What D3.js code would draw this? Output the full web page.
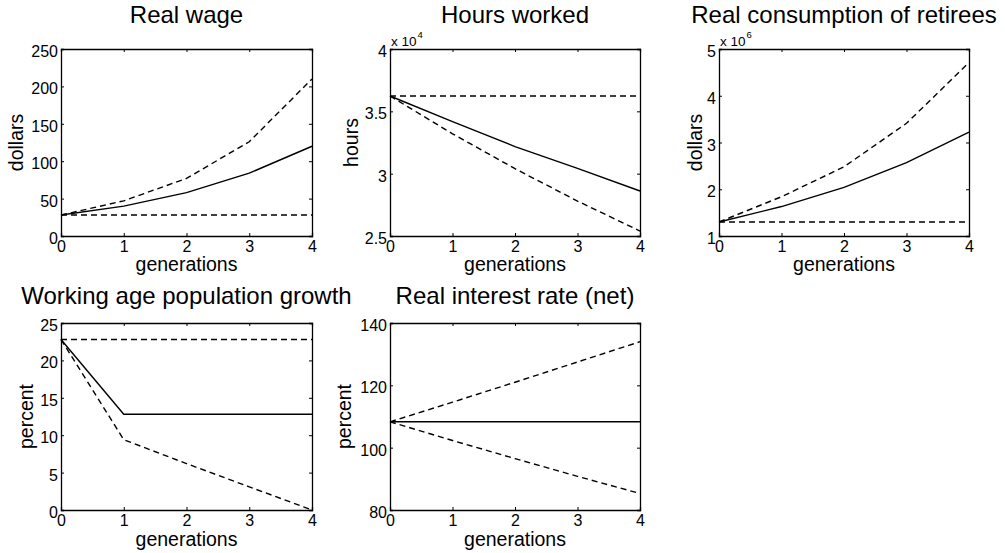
<!DOCTYPE html>
<html><head><meta charset="utf-8">
<script src="https://cdn.jsdelivr.net/npm/d3@7"></script>
<style>
html,body{margin:0;padding:0;background:#fff;}
svg{display:block;font-family:"Liberation Sans",Arial,Helvetica,sans-serif;}
</style></head>
<body>
<svg id="chart" width="1005" height="553"></svg>
<script>
// ---- data ----
const gens = [0, 1, 2, 3, 4];
const xTicks = [0, 1, 2, 3, 4];

const wageBase = [28, 40, 58, 84, 120];
const wageHigh = [28, 47, 77, 126, 210];
const wageLow  = [28, 28, 28, 28, 28];
const wageTicks = [0, 50, 100, 150, 200, 250];

const hoursBase = [36230, 34170, 32170, 30430, 28610];
const hoursHigh = [36230, 36230, 36230, 36230, 36230];
const hoursLow  = [36230, 33200, 30400, 27800, 25400];
const hoursTicks = [25000, 30000, 35000, 40000];

const consBase = [1.30e6, 1.63e6, 2.04e6, 2.57e6, 3.22e6];
const consHigh = [1.30e6, 1.84e6, 2.48e6, 3.41e6, 4.71e6];
const consLow  = [1.30e6, 1.30e6, 1.30e6, 1.30e6, 1.30e6];
const consTicks = [1e6, 2e6, 3e6, 4e6, 5e6];

const popBase = [22.8, 12.8, 12.8, 12.8, 12.8];
const popHigh = [22.8, 22.8, 22.8, 22.8, 22.8];
const popLow  = [22.8, 9.4, 6.2, 3.1, 0];
const popTicks = [0, 5, 10, 15, 20, 25];

const rateBase = [108.3, 108.3, 108.3, 108.3, 108.3];
const rateHigh = [108.3, 114.6, 121.0, 127.5, 134.0];
const rateLow  = [108.3, 102.3, 96.5, 90.8, 85.3];
const rateTicks = [80, 100, 120, 140];

const titles = ["Real wage", "Hours worked", "Real consumption of retirees",
                "Working age population growth", "Real interest rate (net)"];
const yLabels = ["dollars", "hours", "dollars", "percent", "percent"];
const xLabel = "generations";

// ---- layout ----
const panels = [
  {title: titles[0], ylab: yLabels[0], base: wageBase, high: wageHigh, low: wageLow, ticks: wageTicks, dom: [0, 250], div: 1, exp: null,
   x0: 61, x1: 312, y0: 49, y1: 236, titleY: 23, ylabOff: 38, xlabOff: 35},
  {title: titles[1], ylab: yLabels[1], base: hoursBase, high: hoursHigh, low: hoursLow, ticks: hoursTicks, dom: [25000, 40000], div: 1e4, exp: "4",
   x0: 390, x1: 640, y0: 49, y1: 236, titleY: 23, ylabOff: 32, xlabOff: 35},
  {title: titles[2], ylab: yLabels[2], base: consBase, high: consHigh, low: consLow, ticks: consTicks, dom: [1e6, 5e6], div: 1e6, exp: "6",
   x0: 719, x1: 969, y0: 49, y1: 236, titleY: 23, ylabOff: 17, xlabOff: 35},
  {title: titles[3], ylab: yLabels[3], base: popBase, high: popHigh, low: popLow, ticks: popTicks, dom: [0, 25], div: 1, exp: null,
   x0: 61, x1: 312, y0: 323, y1: 510, titleY: 304, ylabOff: 28, xlabOff: 36},
  {title: titles[4], ylab: yLabels[4], base: rateBase, high: rateHigh, low: rateLow, ticks: rateTicks, dom: [80, 140], div: 1, exp: null,
   x0: 390, x1: 640, y0: 323, y1: 510, titleY: 304, ylabOff: 39, xlabOff: 36}
];

const svg = d3.select("#chart");
const tickLen = 3;

panels.forEach(p => {
  const x = d3.scaleLinear().domain([0, 4]).range([p.x0, p.x1]);
  const y = d3.scaleLinear().domain(p.dom).range([p.y1, p.y0]);
  const g = svg.append("g");

  // lines
  const line = d3.line().x((d, i) => x(gens[i])).y(d => y(d));
  [[p.high, "6,4"], [p.low, "6,4"], [p.base, null]].forEach(([arr, dash]) => {
    g.append("path").datum(arr).attr("d", line)
      .attr("fill", "none").attr("stroke", "#000").attr("stroke-width", 1.4)
      .attr("stroke-dasharray", dash);
  });

  // axes (ticks inward on all four sides)
  const fmt = v => String(+(v / p.div).toFixed(3));
  const bottom = g.append("g").attr("transform", `translate(0,${p.y1})`)
    .call(d3.axisBottom(x).tickValues(xTicks).tickSize(-tickLen).tickPadding(0).tickFormat(d3.format("d")));
  const top = g.append("g").attr("transform", `translate(0,${p.y0})`)
    .call(d3.axisTop(x).tickValues(xTicks).tickSize(-tickLen).tickFormat(""));
  const left = g.append("g").attr("transform", `translate(${p.x0},0)`)
    .call(d3.axisLeft(y).tickValues(p.ticks).tickSize(-tickLen).tickPadding(0).tickFormat(fmt));
  const right = g.append("g").attr("transform", `translate(${p.x1},0)`)
    .call(d3.axisRight(y).tickValues(p.ticks).tickSize(-tickLen).tickFormat(""));

  [bottom, top, left, right].forEach(a => {
    a.select(".domain").attr("stroke", "#000").attr("stroke-width", 1.3);
    a.selectAll(".tick line").attr("stroke", "#000").attr("stroke-width", 1);
    a.attr("font-family", null);
  });
  bottom.selectAll(".tick text").attr("font-size", 16).attr("fill", "#000")
    .attr("y", 0).attr("dy", 0).attr("transform", "translate(0,16)");
  left.selectAll(".tick text").attr("font-size", 16).attr("fill", "#000")
    .attr("x", -3).attr("dy", 0).attr("transform", "translate(0,7.5)");

  // exponent label
  if (p.exp) {
    const t = g.append("text").attr("x", p.x0 + 1).attr("y", p.y0 - 3)
      .attr("font-size", 13.5).attr("fill", "#000").text("x 10");
    t.append("tspan").attr("font-size", 9.5).attr("dy", -8).attr("dx", 1).text(p.exp);
  }

  // title
  g.append("text").attr("x", (p.x0 + p.x1) / 2).attr("y", p.titleY)
    .attr("text-anchor", "middle").attr("font-size", 24).attr("fill", "#000").text(p.title);

  // x label
  g.append("text").attr("x", (p.x0 + p.x1) / 2).attr("y", p.y1 + p.xlabOff)
    .attr("text-anchor", "middle").attr("font-size", 19.5).attr("fill", "#000").text(xLabel);

  // y label
  g.append("text")
    .attr("transform", `translate(${p.x0 - p.ylabOff},${(p.y0 + p.y1) / 2}) rotate(-90)`)
    .attr("text-anchor", "middle").attr("font-size", 19.5).attr("fill", "#000").text(p.ylab);
});
</script>
</body></html>
